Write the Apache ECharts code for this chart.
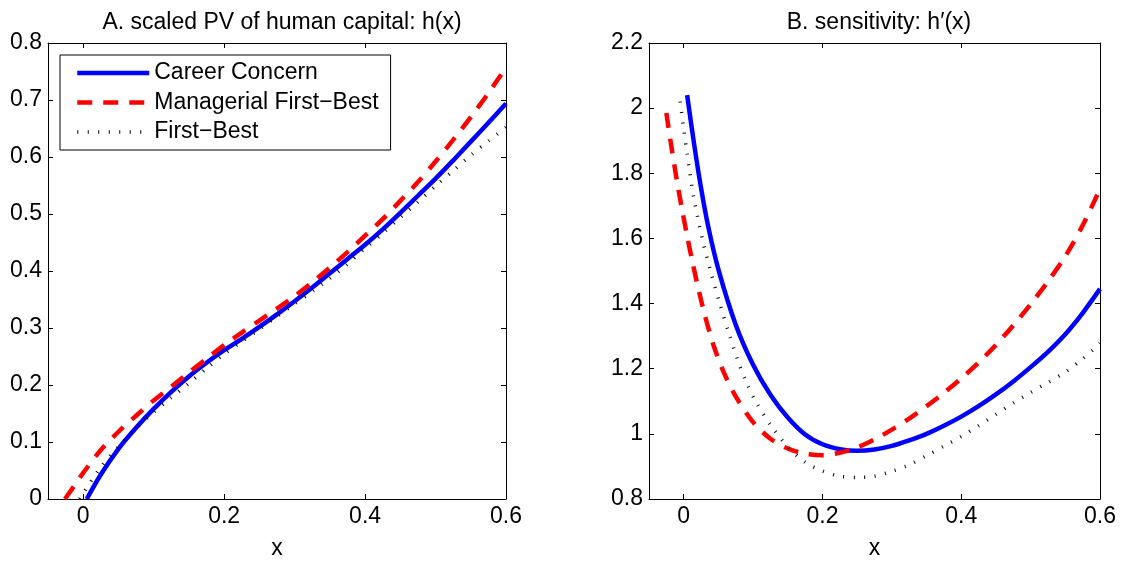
<!DOCTYPE html>
<html><head><meta charset="utf-8">
<script src="https://cdn.jsdelivr.net/npm/echarts@6/dist/echarts.min.js"></script>
<style>html,body{margin:0;padding:0;background:#fff}#c{width:1130px;height:565px}</style>
</head><body><div id="c"></div>
<script>
// ---------- tick labels ----------
const xTicks = [0, 0.2, 0.4, 0.6];
const titleA = 'A. scaled PV of human capital: h(x)';
const titleB = 'B. sensitivity: h\u2032(x)';
const names = ['Career Concern', 'Managerial First\u2212Best', 'First\u2212Best'];

// ---------- Panel A: h(x) ----------
const hX_cc = [0.005,0.025,0.05,0.075,0.1,0.125,0.15,0.175,0.2,0.225,0.25,0.275,0.3,0.325,0.35,0.375,0.4,0.425,0.45,0.475,0.5,0.525,0.55,0.575,0.6];
const h_cc  = [0,0.043,0.088,0.125,0.158,0.188,0.215,0.239,0.261,0.281,0.302,0.324,0.347,0.371,0.396,0.421,0.446,0.473,0.502,0.532,0.562,0.594,0.627,0.66,0.694];
const hX_mfb = [-0.026,-0.01,0,0.025,0.05,0.075,0.1,0.125,0.15,0.175,0.2,0.225,0.25,0.275,0.3,0.325,0.35,0.375,0.4,0.425,0.45,0.475,0.5,0.525,0.55,0.575,0.6];
const h_mfb  = [0,0.028,0.046,0.086,0.118,0.146,0.173,0.197,0.222,0.246,0.27,0.292,0.313,0.334,0.356,0.38,0.406,0.433,0.462,0.491,0.523,0.556,0.592,0.63,0.67,0.712,0.757];
const hX_fb = [-0.005,0,0.025,0.05,0.075,0.1,0.125,0.15,0.175,0.2,0.225,0.25,0.275,0.3,0.325,0.35,0.375,0.4,0.425,0.45,0.475,0.5,0.525,0.55,0.575,0.6];
const h_fb  = [0,0.01,0.056,0.092,0.124,0.152,0.178,0.203,0.229,0.254,0.276,0.298,0.32,0.342,0.364,0.387,0.412,0.44,0.466,0.494,0.521,0.549,0.576,0.603,0.628,0.652];

// ---------- Panel B: h'(x) ----------
const dX_cc = [0.005,0.015,0.025,0.035,0.05,0.075,0.1,0.125,0.15,0.175,0.2,0.225,0.25,0.275,0.3,0.325,0.35,0.375,0.4,0.425,0.45,0.475,0.5,0.525,0.55,0.575,0.6];
const d_cc  = [2.04,1.89,1.755,1.64,1.505,1.335,1.212,1.12,1.05,0.998,0.968,0.953,0.948,0.952,0.963,0.98,1.0,1.025,1.053,1.085,1.121,1.161,1.205,1.252,1.306,1.371,1.445];
const dX_mfb = [-0.025,-0.017,-0.01,-0.003,0.005,0.0124,0.02,0.031,0.0436,0.0575,0.075,0.1,0.125,0.15,0.175,0.2,0.225,0.25,0.275,0.3,0.325,0.35,0.375,0.4,0.425,0.45,0.475,0.5,0.525,0.55,0.575,0.6];
const d_mfb  = [1.985,1.872,1.78,1.696,1.607,1.53,1.456,1.36,1.268,1.19,1.115,1.036,0.985,0.955,0.939,0.934,0.942,0.958,0.983,1.013,1.047,1.085,1.126,1.17,1.219,1.273,1.333,1.398,1.468,1.545,1.64,1.752];
const dX_fb = [-0.005,0,0.005,0.0086,0.015,0.027,0.04,0.052,0.065,0.078,0.09,0.105,0.125,0.15,0.175,0.2,0.225,0.25,0.275,0.3,0.325,0.35,0.375,0.4,0.425,0.45,0.475,0.5,0.525,0.55,0.575,0.6];
const d_fb  = [2.02,1.937,1.86,1.805,1.72,1.597,1.49,1.4,1.31,1.226,1.16,1.095,1.028,0.96,0.913,0.886,0.87,0.866,0.87,0.885,0.905,0.933,0.962,0.992,1.025,1.06,1.095,1.127,1.158,1.19,1.23,1.278];

// ---------- build ----------
const FONT = '"Liberation Sans", Arial, Helvetica, sans-serif';
const FS = 23;
const zip = (xs, ys) => xs.map((x, i) => [x, ys[i]]);
const styles = [
  {color:'#0000ff', width:4.5, type:'solid'},
  {color:'#ff0000', width:4.5, type:[15, 11]},
  {color:'#000000', width:3.5, type:[1, 9.5]}
];
const axLine = {show:true, onZero:false, lineStyle:{color:'#000', width:1}};
function xAx(gi, pos, withLabels) {
  return {
    gridIndex: gi, type:'value', min:-0.05, max:0.6, position:pos,
    name: withLabels ? 'x' : '', nameLocation:'middle', nameGap:38,
    nameTextStyle:{fontSize:FS, fontFamily:FONT, color:'#000'},
    axisLine: axLine,
    axisTick:{show:true, inside:true, length:5, customValues:xTicks, lineStyle:{color:'#000'}},
    axisLabel:{show:withLabels, customValues:xTicks, fontSize:FS, fontFamily:FONT, color:'#000', margin:6},
    splitLine:{show:false}
  };
}
function yAx(gi, pos, min, max, step, withLabels) {
  return {
    gridIndex: gi, type:'value', min:min, max:max, interval:step, position:pos,
    axisLine: axLine,
    axisTick:{show:true, inside:true, length:5, lineStyle:{color:'#000'}},
    axisLabel:{show:withLabels, fontSize:FS, fontFamily:FONT, color:'#000', margin:6},
    splitLine:{show:false}
  };
}
function ser(name, data, xi, yi, st) {
  return {
    name:name, type:'line', xAxisIndex:xi, yAxisIndex:yi, data:data,
    symbol:'none', smooth:0.3, animation:false,
    lineStyle:{color:st.color, width:st.width, type:st.type, cap:'butt'},
    itemStyle:{color:st.color}
  };
}
const titleStyle = {fontSize:FS, fontFamily:FONT, fontWeight:'normal', color:'#000'};
const option = {
  animation:false,
  backgroundColor:'#fff',
  title:[
    {text:titleA, left:277, top:6, textAlign:'center', textStyle:titleStyle},
    {text:titleB, left:874, top:6, textAlign:'center', textStyle:titleStyle}
  ],
  legend:{
    left:60, top:55, orient:'vertical', itemWidth:72, itemHeight:14, itemGap:5.5,
    padding:[6,12,6,15], borderColor:'#000', borderWidth:1, backgroundColor:'#fff',
    textStyle:{fontSize:FS, fontFamily:FONT, color:'#000', lineHeight:24},
    itemStyle:{color:'rgba(0,0,0,0)', borderWidth:0, opacity:0},
    data:names.map((n, i) => ({name:n, lineStyle:{width:styles[i].width, type:styles[i].type, color:styles[i].color, cap:'butt'}})),
    selectedMode:false
  },
  grid:[
    {left:48, top:43, width:458, height:459},
    {left:649, top:43, width:451, height:459}
  ],
  xAxis:[ xAx(0,'bottom',true), xAx(0,'top',false), xAx(1,'bottom',true), xAx(1,'top',false) ],
  yAxis:[ yAx(0,'left',0,0.8,0.1,true), yAx(0,'right',0,0.8,0.1,false),
          yAx(1,'left',0.8,2.2,0.2,true), yAx(1,'right',0.8,2.2,0.2,false) ],
  series:[
    ser(names[0], zip(hX_cc, h_cc), 0, 0, styles[0]),
    ser(names[1], zip(hX_mfb, h_mfb), 0, 0, styles[1]),
    ser(names[2], zip(hX_fb, h_fb), 0, 0, styles[2]),
    ser(names[0], zip(dX_cc, d_cc), 2, 2, styles[0]),
    ser(names[1], zip(dX_mfb, d_mfb), 2, 2, styles[1]),
    ser(names[2], zip(dX_fb, d_fb), 2, 2, styles[2])
  ]
};
const chart = echarts.init(document.getElementById('c'), null, {renderer:'canvas'});
chart.setOption(option);
</script></body></html>
